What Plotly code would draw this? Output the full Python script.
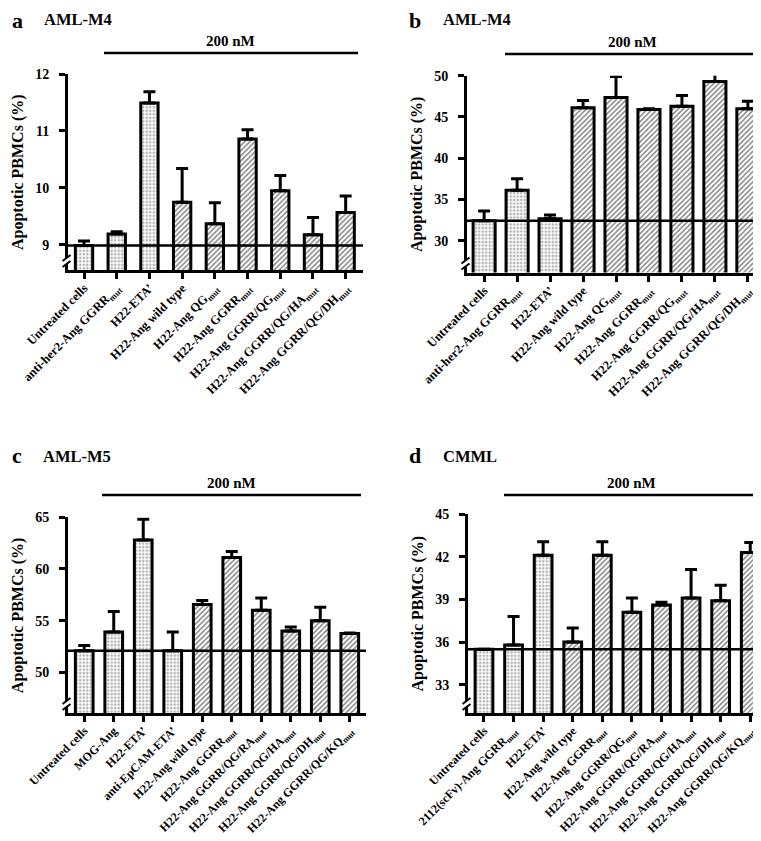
import plotly.graph_objects as go

W, H = 761, 841
FONT = "Liberation Serif"

# ---------------- data ----------------
labels_a = ["Untreated cells", "anti-her2-Ang GGRR<sub>mut</sub>", "H22-ETA\u2019", "H22-Ang wild type",
            "H22-Ang QG<sub>mut</sub>", "H22-Ang GGRR<sub>mut</sub>", "H22-Ang GGRR/QG<sub>mut</sub>",
            "H22-Ang GGRR/QG/HA<sub>mut</sub>", "H22-Ang GGRR/QG/DH<sub>mut</sub>"]
values_a = [8.99, 9.19, 11.49, 9.75, 9.37, 10.86, 9.95, 9.18, 9.57]
errors_a = [0.08, 0.04, 0.20, 0.59, 0.37, 0.16, 0.27, 0.30, 0.29]
yticks_a = [9, 10, 11, 12]

labels_b = list(labels_a)
values_b = [32.4, 36.1, 32.65, 46.1, 47.35, 45.9, 46.3, 49.3, 46.0]
errors_b = [1.2, 1.4, 0.45, 0.9, 2.55, 0.1, 1.3, 1.5, 0.9]
yticks_b = [30, 35, 40, 45, 50]

labels_c = ["Untreated cells", "MOG-Ang", "H22-ETA\u2019", "anti-EpCAM-ETA\u2019", "H22-Ang wild type",
            "H22-Ang GGRR<sub>mut</sub>", "H22-Ang GGRR/QG/RA<sub>mut</sub>", "H22-Ang GGRR/QG/HA<sub>mut</sub>",
            "H22-Ang GGRR/QG/DH<sub>mut</sub>", "H22-Ang GGRR/QG/KQ<sub>mut</sub>"]
values_c = [52.1, 53.9, 62.8, 52.1, 56.56, 61.1, 56.0, 54.0, 55.0, 53.75]
errors_c = [0.5, 2.0, 2.0, 1.8, 0.4, 0.6, 1.2, 0.4, 1.3, 0.05]
yticks_c = [50, 55, 60, 65]

labels_d = ["Untreated cells", "2112(scFv)-Ang GGRR<sub>mut</sub>", "H22-ETA\u2019", "H22-Ang wild type",
            "H22-Ang GGRR<sub>mut</sub>", "H22-Ang GGRR/QG<sub>mut</sub>", "H22-Ang GGRR/QG/RA<sub>mut</sub>",
            "H22-Ang GGRR/QG/HA<sub>mut</sub>", "H22-Ang GGRR/QG/DH<sub>mut</sub>", "H22-Ang GGRR/QG/KQ<sub>mut</sub>"]
values_d = [35.5, 35.8, 42.1, 36.0, 42.1, 38.1, 38.6, 39.1, 38.9, 42.3]
errors_d = [0.0, 2.0, 0.95, 1.0, 0.95, 1.0, 0.2, 2.0, 1.1, 0.7]
yticks_d = [33, 36, 39, 42, 45]

panel_letters = ["a", "b", "c", "d"]
panel_titles = ["AML-M4", "AML-M4", "AML-M5", "CMML"]
dose_label = "200 nM"
y_title = "Apoptotic PBMCs (%)"

# ---------------- layout geometry (pixels) ----------------
def fx(p):
    return p / W

def fy(p):
    return 1 - p / H

panels = [
    dict(labels=labels_a, values=values_a, errors=errors_a, yticks=yticks_a,
         x0=60, x1=355, ytop=66, ybot=262, yrange=[8.56, 12], xrange=[-0.49, 8.53], bw=0.53,
         letter=(2, 12), title=(34, 11), dose=(96, 350, 45), yt=10, xfs=12.5),
    dict(labels=labels_b, values=values_b, errors=errors_b, yticks=yticks_b,
         x0=459, x1=757, ytop=67.7, ybot=264.5, yrange=[26.14, 50], xrange=[-0.52, 8.52], bw=0.67,
         letter=(399, 12), title=(433, 11), dose=(497, 752, 46), yt=409, xfs=12.5),
    dict(labels=labels_c, values=values_c, errors=errors_c, yticks=yticks_c,
         x0=60, x1=358, ytop=509.3, ybot=705, yrange=[46.07, 65], xrange=[-0.55, 9.55], bw=0.6,
         letter=(2, 447), title=(33, 448), dose=(94, 353, 487), yt=10, xfs=12),
    dict(labels=labels_d, values=values_d, errors=errors_d, yticks=yticks_d,
         x0=460, x1=760, ytop=506, ybot=705, yrange=[31.02, 45], xrange=[-0.54, 9.6], bw=0.6,
         letter=(399, 447), title=(433, 448), dose=(496, 750, 487), yt=409, xfs=12),
]

fig = go.Figure()
shapes = []
annotations = []

for i, p in enumerate(panels):
    n = i + 1
    xa = "x" if n == 1 else f"x{n}"
    ya = "y" if n == 1 else f"y{n}"
    hatched = [lab.startswith("H22-Ang") for lab in p["labels"]]
    fig.add_trace(go.Bar(
        x=p["labels"], y=p["values"], xaxis=xa, yaxis=ya, width=p["bw"], cliponaxis=False,
        marker=dict(color="white", line=dict(color="black", width=3),
                    pattern=dict(shape=["/" if h else "." for h in hatched],
                                 fgcolor=["#111111" if h else "#666666" for h in hatched],
                                 bgcolor="white",
                                 size=[3.6 if h else 3.5 for h in hatched],
                                 solidity=[0.45 if h else 0.45 for h in hatched])),
        error_y=dict(type="data", symmetric=False, array=p["errors"],
                     arrayminus=[0] * len(p["errors"]),
                     color="black", thickness=3, width=6),
        showlegend=False, hoverinfo="x+y",
    ))
    axis_common = dict(showline=True, linecolor="black", linewidth=3, ticks="outside",
                       ticklen=6, tickwidth=3, tickcolor="black", showgrid=False,
                       zeroline=False, automargin=False)
    fig.layout[("xaxis" if n == 1 else f"xaxis{n}")] = dict(
        axis_common, domain=[fx(p["x0"]), fx(p["x1"])], anchor=ya, range=p["xrange"],
        type="category", tickangle=-45, ticklabelstandoff=-3,
        tickfont=dict(family=FONT, size=p["xfs"], color="black", weight="bold"))
    fig.layout[("yaxis" if n == 1 else f"yaxis{n}")] = dict(
        axis_common, domain=[fy(p["ybot"]), fy(p["ytop"])], anchor=xa, range=p["yrange"],
        tickvals=p["yticks"], ticklabelstandoff=7,
        tickfont=dict(family=FONT, size=14, color="black", weight="bold"))

    # reference line at untreated level
    shapes.append(dict(type="line", xref=f"{xa} domain", yref=ya, x0=0, x1=1,
                       y0=p["values"][0], y1=p["values"][0],
                       line=dict(color="black", width=2.5)))
    # dose bar
    dx0, dx1, dy = p["dose"]
    shapes.append(dict(type="line", xref="paper", yref="paper", x0=fx(dx0), x1=fx(dx1),
                       y0=fy(dy), y1=fy(dy), line=dict(color="black", width=2.5)))
    annotations.append(dict(text="<b>" + dose_label + "</b>", xref="paper", yref="paper",
                            x=fx((dx0 + dx1) / 2), y=fy(dy - 12), showarrow=False,
                            font=dict(family=FONT, size=15, color="black"),
                            xanchor="center", yanchor="middle"))
    # axis break
    ax = p["x0"] - 1.5
    by = p["ybot"] - 9
    shapes.append(dict(type="rect", xref="paper", yref="paper",
                       x0=fx(ax - 3), x1=fx(ax + 3), y0=fy(by + 3), y1=fy(by - 3),
                       fillcolor="white", line=dict(width=0), layer="above"))
    for off in (-3, 3):
        shapes.append(dict(type="line", xref="paper", yref="paper",
                           x0=fx(ax - 4), x1=fx(ax + 4), y0=fy(by + off + 3), y1=fy(by + off - 3),
                           line=dict(color="black", width=2)))
    # panel letter and title
    lx, ly = p["letter"]
    annotations.append(dict(text="<b>" + panel_letters[i] + "</b>", xref="paper", yref="paper",
                            x=fx(lx), y=fy(ly), showarrow=False, xanchor="left", yanchor="middle",
                            font=dict(family=FONT, size=22, color="black")))
    tx, ty = p["title"]
    annotations.append(dict(text="<b>" + panel_titles[i] + "</b>", xref="paper", yref="paper",
                            x=fx(tx), y=fy(ty), showarrow=False, xanchor="left", yanchor="middle",
                            font=dict(family=FONT, size=16.5, color="black")))
    # y title
    annotations.append(dict(text="<b>" + y_title + "</b>", xref="paper", yref="paper",
                            x=fx(p["yt"]), y=fy((p["ytop"] + p["ybot"]) / 2), showarrow=False,
                            textangle=-90, xanchor="center", yanchor="middle",
                            font=dict(family=FONT, size=16, color="black")))

fig.update_layout(
    width=W, height=H, margin=dict(l=0, r=0, t=0, b=0),
    paper_bgcolor="white", plot_bgcolor="white",
    font=dict(family=FONT, color="black"),
    shapes=shapes, annotations=annotations, showlegend=False, bargap=0.3,
)

fig.write_html("out.html")
